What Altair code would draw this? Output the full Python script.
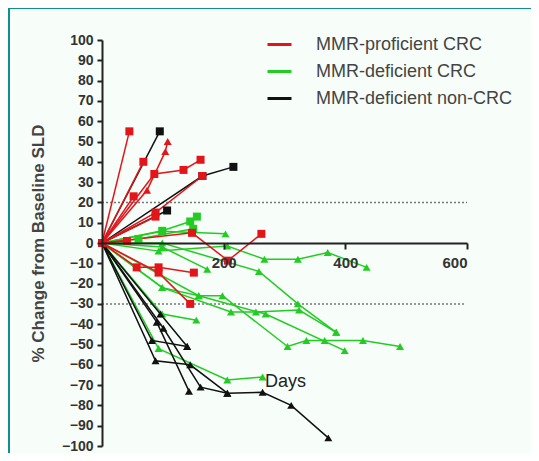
import altair as alt
import pandas as pd

groups = ["MMR-proficient CRC", "MMR-deficient CRC", "MMR-deficient non-CRC"]
group_colors = ["#e3151b", "#22cc22", "#111111"]

P, D, N = groups
series_group = [
    D, D, D, D, D, D, D, D, D, D, D,
    N, N, N, N, N, N, N, N,
    P, P, P, P, P, P, P, P, P, P, P,
]
series_shape = [
    "square", "triangle-up", "triangle-up", "triangle-up", "triangle-up", "triangle-up",
    "triangle-up", "triangle-up", "triangle-up", "triangle-up", "square",
    "square", "square", "square", "triangle-up", "triangle-up", "triangle-up", "triangle-up", "triangle-up",
    "square", "square", "square", "triangle-up", "square", "square", "square", "square", "square", "square", "square",
]
series_days = [
    [0, 99, 145, 156],
    [0, 99, 203],
    [0, 93, 206, 267, 322, 371, 435],
    [0, 99, 258, 322, 385],
    [0, 99, 159, 198, 305, 336, 366, 429, 490],
    [0, 99, 212, 253, 324, 385],
    [0, 159, 269, 399],
    [0, 99, 155],
    [0, 93, 206, 264],
    [0, 99, 173],
    [0, 60, 150],
    [0, 95],
    [0, 165, 216],
    [0, 107],
    [0, 96, 140],
    [0, 82, 140],
    [0, 88, 145, 206],
    [0, 90, 143],
    [0, 101, 162, 206, 264, 311, 372],
    [0, 45],
    [0, 68],
    [0, 86, 134, 162],
    [0, 74, 104, 108],
    [0, 88, 165],
    [0, 52],
    [0, 41],
    [0, 148, 207, 262],
    [0, 57, 93, 151],
    [0, 93, 145],
    [0, 88],
]
series_pct = [
    [0, 6, 10.6, 13],
    [0, 5.8, 4.5],
    [0, -4, -1.5, -8, -8, -4.7, -12],
    [0, 0, -14, -30, -44],
    [0, -22, -26, -26, -51, -48, -48, -48, -51],
    [0, -22, -34, -34, -33, -44],
    [0, -26, -35, -53],
    [0, -35, -38],
    [0, -52, -67.5, -66],
    [0, -2, -13],
    [0, 2, 7],
    [0, 55],
    [0, 33, 37.5],
    [0, 16],
    [0, -35, -51],
    [0, -48, -51],
    [0, -58, -60, -74],
    [0, -39, -73],
    [0, -42, -71, -74, -73.5, -80, -96],
    [0, 55],
    [0, 40],
    [0, 34, 36, 41],
    [0, 26, 45, 50],
    [0, 15, 33],
    [0, 23],
    [0, 1],
    [0, 5, -8.7, 4.5],
    [0, -12, -12, -14.6],
    [0, -14.6, -30],
    [0, 13],
]

ref_levels = [20, -30]
ref_start = [0, 0]
ref_end = [600, 595]

y_ticks = list(range(-100, 101, 10))
x_ticks = [200, 400, 600]

rows = []
for i, (g, s, ds, ps) in enumerate(zip(series_group, series_shape, series_days, series_pct)):
    for j, (d, p) in enumerate(zip(ds, ps)):
        rows.append({"sid": i, "group": g, "shape": s, "day": d, "pct": p, "k": j})
df = pd.DataFrame(rows)
ref_df = pd.DataFrame({"lvl": ref_levels, "x0": ref_start, "x1": ref_end})

W, H = 365, 406
PAD_L, PAD_T = 94, 32
FONT = "Liberation Sans"
xs = alt.Scale(domain=[0, 600], nice=False, zero=False)
ys = alt.Scale(domain=[-100, 100], nice=False, zero=False)

color_scale = alt.Scale(domain=groups, range=group_colors)

x_axis = alt.Axis(
    values=x_ticks, offset=-H / 2, title="Days", titleX=183, titleY=138,
    titleBaseline="middle", titleAlign="center", titleFont=FONT, titleFontSize=18,
    titleFontWeight="normal", titleColor="#222", labelFont=FONT, labelFontSize=15,
    labelFontWeight="bold", labelColor="#333", labelPadding=6, tickSize=6,
    tickWidth=2, tickColor="#222", domainColor="#222", domainWidth=2, grid=False,
    zindex=1,
)
y_axis = alt.Axis(
    values=y_ticks, title="% Change from Baseline SLD", titleFont=FONT,
    titleFontSize=17, titleFontWeight="bold", titleColor="#444", titlePadding=14,
    labelFont=FONT, labelFontSize=14, labelFontWeight="bold", labelColor="#333",
    labelPadding=4, tickSize=5, tickWidth=2, tickColor="#222", domainColor="#222",
    domainWidth=2, grid=False, zindex=1,
)

frame = pd.DataFrame({"a": [0]})
panel = alt.Chart(frame).mark_rect(color="#f7fdf8").encode(
    x=alt.value(-PAD_L + 2), x2=alt.value(W + 200),
    y=alt.value(-PAD_T + 1), y2=alt.value(H + 200),
)

refs = alt.Chart(ref_df).mark_rule(color="#777777", strokeWidth=1.5, strokeDash=[2, 2]).encode(
    x=alt.X("x0:Q", scale=xs, axis=x_axis),
    x2="x1:Q",
    y=alt.Y("lvl:Q", scale=ys, axis=y_axis),
)

lines = alt.Chart(df).mark_line(strokeWidth=1.5).encode(
    x=alt.X("day:Q", scale=xs, axis=x_axis),
    y=alt.Y("pct:Q", scale=ys, axis=y_axis),
    color=alt.Color("group:N", scale=color_scale, legend=alt.Legend(
        title=None, orient="none", legendX=164, legendY=-9, symbolType="stroke",
        symbolStrokeWidth=3, symbolSize=576, labelFont=FONT, labelFontSize=18,
        labelColor="#444", labelOffset=23, rowPadding=4, labelLimit=400,
    )),
    detail="sid:N",
    order="k:Q",
)

points = alt.Chart(df).mark_point(filled=True, size=64, opacity=1).encode(
    x=alt.X("day:Q", scale=xs, axis=x_axis),
    y=alt.Y("pct:Q", scale=ys, axis=y_axis),
    color=alt.Color("group:N", scale=color_scale, legend=None),
    shape=alt.Shape("shape:N", scale=None),
)

chart = alt.layer(panel, refs, lines, points).properties(
    width=W, height=H,
    padding={"left": PAD_L, "top": PAD_T, "right": 523 - PAD_L - W, "bottom": 445 - PAD_T - H},
    autosize="none",
    background="#0f8f8e",
).configure_view(stroke=None)

chart.save("out.html", embed_options={"renderer": "svg", "actions": False})
